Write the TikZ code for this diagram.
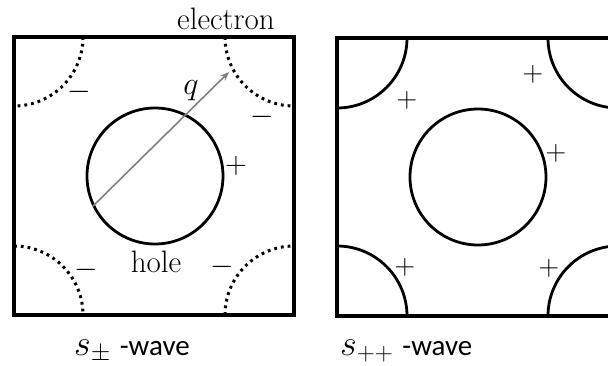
\documentclass[tikz,border=0pt]{standalone}
\usepackage{graphicx}
\usepackage{fontspec}
\newfontfamily\carl{Carlito}
\usetikzlibrary{arrows.meta}
\newcommand{\scmath}[2]{\scalebox{#1}{$#2$}}
\tikzset{
  boxframe/.style={line width=3.2pt},
  fermi/.style={line width=2.8pt},
  fermidot/.style={line width=3pt, dash pattern=on 2.8pt off 4pt},
  lbl/.style={font=\fontsize{31}{36}\selectfont, inner sep=0pt},
  sgn/.style={font=\fontsize{24.88}{30}\selectfont, inner sep=0pt},
  caption/.style={font=\fontsize{29}{33}\selectfont, inner sep=0pt, anchor=base west},
  qarrow/.style={draw=gray, line width=1.6pt, -{Stealth[length=9pt,width=7pt]}}
}
\begin{document}
\begin{tikzpicture}[x=1pt,y=1pt]
\useasboundingbox (0,0) rectangle (608,365);
\clip (0,0) rectangle (608,365);
% left panel
\draw[boxframe] (14,50) rectangle (294,328);
\node[circle, draw, fermi, minimum size=136pt, inner sep=0pt] (c1) at (155,189) {};
\draw[fermidot] (83,328) arc[start angle=0, end angle=-90, radius=69];
\draw[fermidot] (225,328) arc[start angle=180, end angle=270, radius=69];
\draw[fermidot] (14,119) arc[start angle=90, end angle=0, radius=69];
\draw[fermidot] (225,50) arc[start angle=180, end angle=90, radius=69];
\coordinate (qend) at (229,293);
\draw[qarrow] (c1.206) -- (qend);
\node[lbl, anchor=base] (el) at (226,335) {electron};
\node[sgn, anchor=base] (q) at (191,270) {\scmath{1.3}{q}};
\node[lbl, anchor=base] (hole) at (156,93) {hole};
\node[sgn] (m1) at (79,273) {\scmath{1.22}{-}};
\node[sgn] (m2) at (262,248) {\scmath{1.22}{-}};
\node[sgn] (m3) at (86,95) {\scmath{1.22}{-}};
\node[sgn] (m4) at (222,98) {\scmath{1.22}{-}};
\node[sgn] (p0) at (236,199) {\scmath{1.22}{+}};
% right panel
\draw[boxframe] (337,49) rectangle (618,327);
\node[circle, draw, fermi, minimum size=136pt, inner sep=0pt] (c2) at (478,188) {};
\draw[fermi] (407,327) arc[start angle=0, end angle=-90, radius=70];
\draw[fermi] (548,327) arc[start angle=180, end angle=270, radius=70];
\draw[fermi] (337,119) arc[start angle=90, end angle=0, radius=70];
\draw[fermi] (548,49) arc[start angle=180, end angle=90, radius=70];
\node[sgn] (p1) at (407,265) {\scmath{1.15}{+}};
\node[sgn] (p2) at (533,291) {\scmath{1.15}{+}};
\node[sgn] (p3) at (556,212) {\scmath{1.15}{+}};
\node[sgn] (p4) at (405,98) {\scmath{1.15}{+}};
\node[sgn] (p5) at (549,97) {\scmath{1.15}{+}};
% captions
\node[caption] (cap1) at (74,10) {{\fontsize{24.88}{30}\selectfont\scmath{1.45}{s_{\scriptscriptstyle\pm}}} {\carl -wave}};
\node[caption] (cap2) at (340,10) {{\fontsize{24.88}{30}\selectfont\scmath{1.45}{s_{\scriptscriptstyle ++}}} {\carl -wave}};
\end{tikzpicture}
\end{document}
